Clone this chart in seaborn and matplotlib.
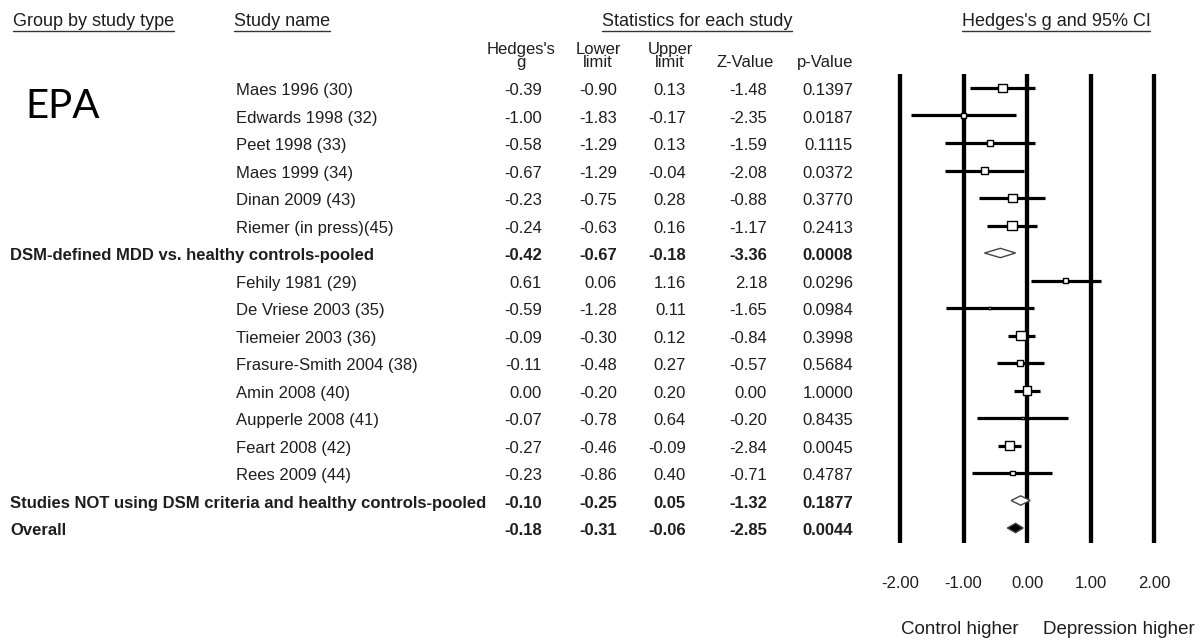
import numpy as np
import pandas as pd
import seaborn as sns
import matplotlib.pyplot as plt
from matplotlib.transforms import blended_transform_factory
from matplotlib.lines import Line2D

# table data, one row per line of the forest plot
study = ['Maes 1996 (30)', 'Edwards 1998 (32)', 'Peet 1998 (33)', 'Maes 1999 (34)',
         'Dinan 2009 (43)', 'Riemer (in press)(45)',
         'DSM-defined MDD vs. healthy controls-pooled',
         'Fehily 1981 (29)', 'De Vriese 2003 (35)', 'Tiemeier 2003 (36)',
         'Frasure-Smith 2004 (38)', 'Amin 2008 (40)', 'Aupperle 2008 (41)',
         'Feart 2008 (42)', 'Rees 2009 (44)',
         'Studies NOT using DSM criteria and healthy controls-pooled',
         'Overall']
kind = ['study'] * 6 + ['pooled'] + ['study'] * 8 + ['pooled', 'overall']
hedges_g = [-0.39, -1.00, -0.58, -0.67, -0.23, -0.24, -0.42,
            0.61, -0.59, -0.09, -0.11, 0.00, -0.07, -0.27, -0.23, -0.10, -0.18]
lower = [-0.90, -1.83, -1.29, -1.29, -0.75, -0.63, -0.67,
         0.06, -1.28, -0.30, -0.48, -0.20, -0.78, -0.46, -0.86, -0.25, -0.31]
upper = [0.13, -0.17, 0.13, -0.04, 0.28, 0.16, -0.18,
         1.16, 0.11, 0.12, 0.27, 0.20, 0.64, -0.09, 0.40, 0.05, -0.06]
z_value = [-1.48, -2.35, -1.59, -2.08, -0.88, -1.17, -3.36,
           2.18, -1.65, -0.84, -0.57, 0.00, -0.20, -2.84, -0.71, -1.32, -2.85]
p_value = [0.1397, 0.0187, 0.1115, 0.0372, 0.3770, 0.2413, 0.0008,
           0.0296, 0.0984, 0.3998, 0.5684, 1.0000, 0.8435, 0.0045, 0.4787, 0.1877, 0.0044]
# relative study weight (box size)
weight = [64, 12, 30, 30, 64, 80, np.nan,
          16, 3, 80, 36, 64, 3, 64, 14, np.nan, np.nan]

ticks = [-2, -1, 0, 1, 2]

df = pd.DataFrame({'study': study, 'kind': kind, 'g': hedges_g, 'lower': lower,
                   'upper': upper, 'z': z_value, 'p': p_value, 'weight': weight})
df['row'] = np.arange(len(df))

sns.set_theme(style='white')
plt.rcParams['font.family'] = ['Liberation Sans', 'DejaVu Sans']
ink = '#1e1e1e'

W, H = 1204, 643
fig = plt.figure(figsize=(W / 100, H / 100), dpi=100)
ax = fig.add_axes([887.3 / W, 1 - 543 / H, 279.4 / W, 469 / H])
ax.set_xlim(-2.2, 2.2)
ax.set_ylim(16.545, -0.509)

for t in ticks:
    ax.axvline(t, color='black', lw=3.1, zorder=1)

st = df[df.kind == 'study']
ax.hlines(st.row, st.lower, st.upper, color='black', lw=2.3, zorder=2)
sns.scatterplot(data=st, x='g', y='row', size='weight', sizes=(3, 50), marker='s',
                color='white', edgecolor='black', linewidth=1.0, legend=False,
                ax=ax, zorder=3)

# pooled estimates as diamonds
h = 0.17
for _, r in df[df.kind != 'study'].iterrows():
    face = 'black' if r.kind == 'overall' else 'white'
    ax.fill([r.lower, r.g, r.upper, r.g], [r.row, r.row - h, r.row, r.row + h],
            facecolor=face, edgecolor='#444444', lw=1.0, zorder=3)

ax.set_xticks(ticks, labels=[f'{t:.2f}' for t in ticks])
ax.set_yticks([])
ax.set_xlabel('')
ax.set_ylabel('')
for s in ax.spines.values():
    s.set_visible(False)
ax.tick_params(axis='x', length=0, pad=24, labelsize=12, labelcolor=ink)

# table text
tr = blended_transform_factory(fig.transFigure, ax.transData)
col_right = [542, 617, 686, 767, 853]
for _, r in df.iterrows():
    y = r.row + 0.1
    bold = r.kind != 'study'
    fw = 'bold' if bold else 'normal'
    if bold:
        ax.text(10 / W, y, r.study, transform=tr, ha='left', va='center',
                fontsize=12, fontweight='bold', color=ink)
    else:
        ax.text(236 / W, y, r.study, transform=tr, ha='left', va='center',
                fontsize=12, color=ink)
    vals = [f'{r.g:.2f}', f'{r.lower:.2f}', f'{r.upper:.2f}', f'{r.z:.2f}', f'{r.p:.4f}']
    for xr, v in zip(col_right, vals):
        ax.text(xr / W, y, v, transform=tr, ha='right', va='center',
                fontsize=12, fontweight=fw, color=ink)

# column headers
col_heads = [("Hedges's\ng", 521), ('Lower\nlimit', 598), ('Upper\nlimit', 670),
             ('Z-Value', 745), ('p-Value', 825)]
for txt, xc in col_heads:
    fig.text(xc / W, 1 - 70 / H, txt, ha='center', va='bottom', fontsize=12,
             linespacing=0.8, color=ink)

heads = [('Group by study type', 13, 'left'), ('Study name', 234, 'left'),
         ('Statistics for each study', 697, 'center'),
         ('Hedges\'s g and 95% CI', 1056, 'center')]
head_texts = []
for txt, x, ha in heads:
    head_texts.append(fig.text(x / W, 1 - 21 / H, txt, ha=ha, va='center',
                               fontsize=13, color=ink))

fig.text(25 / W, 1 - 107 / H, 'EPA', ha='left', va='center', fontsize=29,
         family=['Lato', 'DejaVu Sans'], color='black')

fig.text(1019 / W, 1 - 630 / H, 'Control higher', ha='right', va='center',
         fontsize=13.5, color=ink)
fig.text(1043 / W, 1 - 630 / H, 'Depression higher', ha='left', va='center',
         fontsize=13.5, color=ink)

# underline the section headers
fig.canvas.draw()
for t in head_texts:
    bb = t.get_window_extent()
    fig.add_artist(Line2D([bb.x0 / W, bb.x1 / W], [(bb.y0 - 1) / H] * 2,
                          transform=fig.transFigure, color='#333333', lw=1.0))

fig.savefig('out.png', dpi=100)
